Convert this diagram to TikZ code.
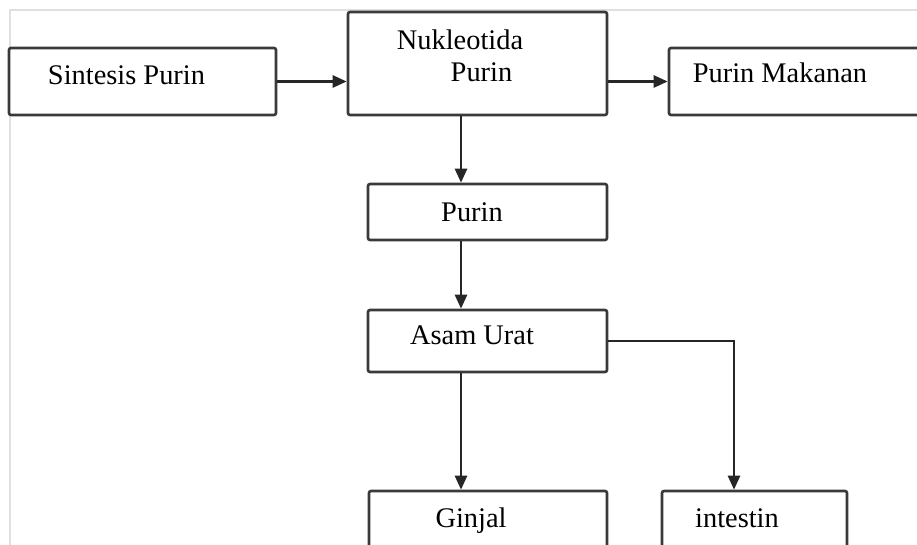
\documentclass[tikz,border=0pt]{standalone}
\usepackage{fontspec}
\setmainfont{Liberation Serif}
\usetikzlibrary{arrows.meta,positioning,calc}
\definecolor{inkGray}{RGB}{58,58,58}
\tikzset{flowpanel/.style={
  x=0.5pt, y=-0.5pt,
  box/.style={rectangle, draw=inkGray, line width=1.3pt, rounded corners=1pt, fill=white, inner sep=0pt},
  wire/.style={-{Triangle[length=7pt,width=6pt]}, line width=1.3pt, draw=black!85},
  txt/.style={anchor=base, inner sep=0pt, font=\fontsize{14.2}{17}\selectfont, text=black},
  frame/.style={draw=black!12, line width=0.6pt},
}}

\begin{document}
\begin{tikzpicture}[flowpanel]

\useasboundingbox (0,0) rectangle (917,545);
\clip (0,0) rectangle (917,545);

% ---- page edge ----
\draw[frame] (10,545) -- (10,10) -- (917,10);

% ---- boxes ----
\node[box, minimum width=133.5pt, minimum height=33.5pt] (sin)  at (142.5,81.5) {};
\node[box, minimum width=129.5pt, minimum height=51.5pt] (nuk)  at (477.5,63.5) {};
\node[box, minimum width=133pt,   minimum height=33.5pt] (mak)  at (802,81.5)   {};
\node[box, minimum width=119.5pt, minimum height=28pt]   (pur)  at (487.5,212)  {};
\node[box, minimum width=119.5pt, minimum height=31pt]   (asam) at (487.5,341)  {};
\node[box, minimum width=119pt,   minimum height=34.5pt] (gin)  at (488,525.5)  {};
\node[box, minimum width=92.5pt,  minimum height=34.5pt] (int)  at (754.5,525.5) {};

% ---- labels ----
\node[txt] (tsin)  at (126.5,85) {Sintesis Purin};
\node[txt] (tnuk)  at (460,50)   {Nukleotida};
\node[txt] (tnuk2) at (481.5,82) {Purin};
\node[txt] (tmak)  at (780,83)   {Purin Makanan};
\node[txt] (tpur)  at (472,222)  {Purin};
\node[txt] (tasam) at (472,345)  {Asam Urat};
\node[txt] (tgin)  at (471,528)  {Ginjal};
\node[txt] (tint)  at (737,528)  {intestin};

% ---- columns for the vertical arrows ----
\coordinate (col)  at (461,0);
\coordinate (drop) at (734,0);

% ---- top row ----
\draw[wire] (sin.east) -- (sin.east -| nuk.west);
\draw[wire] (mak.west -| nuk.east) -- (mak.west);

% ---- down the middle ----
\draw[wire] (nuk.south -| col) -- (pur.north -| col);
\draw[wire] (pur.south -| col) -- (asam.north -| col);
\draw[wire] (asam.south -| col) -- (gin.north -| col);

% ---- side branch ----
\draw[wire] (asam.east) -| (int.north -| drop);

\end{tikzpicture}
\end{document}
